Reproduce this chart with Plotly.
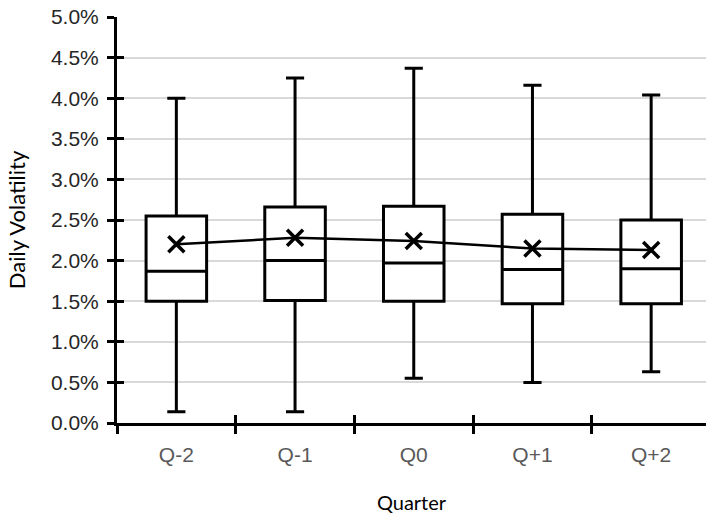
import plotly.graph_objects as go

# Quarterly daily-volatility distribution around the event quarter
quarters = ["Q-2", "Q-1", "Q0", "Q+1", "Q+2"]
whisker_low = [0.0014, 0.0014, 0.0055, 0.0050, 0.0063]
q1 = [0.0150, 0.0151, 0.0150, 0.0147, 0.0147]
median = [0.0187, 0.0200, 0.0197, 0.0189, 0.0190]
q3 = [0.0255, 0.0266, 0.0267, 0.0257, 0.0250]
whisker_high = [0.0400, 0.0425, 0.0437, 0.0416, 0.0404]
mean = [0.0220, 0.0228, 0.0224, 0.0215, 0.0213]

TICK_FONT = "Arial, Liberation Sans"
TITLE_FONT = "Lato"
X_RANGE = [-0.5, 4.462]
Y_RANGE = [0, 0.05]

fig = go.Figure()

fig.add_trace(go.Box(
    x=quarters,
    q1=q1, median=median, q3=q3,
    lowerfence=whisker_low, upperfence=whisker_high,
    fillcolor="white",
    line=dict(color="black", width=3),
    whiskerwidth=0.3,
    boxpoints=False,
    showlegend=False,
    hoverinfo="skip",
))

fig.add_trace(go.Scatter(
    x=quarters, y=mean,
    mode="lines+markers",
    line=dict(color="black", width=2.5),
    marker=dict(symbol="x-thin", size=16, line=dict(color="black", width=3.5)),
    showlegend=False,
    hoverinfo="skip",
))

# invisible trace that carries the overlay axes (inner half of the cross ticks)
fig.add_trace(go.Scatter(
    x=quarters, y=mean, xaxis="x2", yaxis="y2",
    mode="markers", marker=dict(opacity=0),
    showlegend=False, hoverinfo="skip",
))

fig.update_layout(
    width=706, height=517,
    margin=dict(l=117, r=0, t=17, b=94),
    paper_bgcolor="white", plot_bgcolor="white",
    boxgap=0.49, boxgroupgap=0,
    xaxis=dict(
        type="category", categoryarray=quarters, range=X_RANGE,
        showline=True, linecolor="black", linewidth=3,
        ticks="outside", tickson="boundaries", ticklen=8, tickwidth=2.5, tickcolor="black",
        showgrid=False, zeroline=False,
        tickfont=dict(family=TICK_FONT, size=21, color="#595959"),
        ticklabelstandoff=11,
        title=dict(text="Quarter", font=dict(family=TITLE_FONT, size=20, color="black"), standoff=31),
    ),
    yaxis=dict(
        range=Y_RANGE, dtick=0.005, tickformat=".1%",
        showline=True, linecolor="black", linewidth=3,
        ticks="outside", ticklen=7, tickwidth=2.5, tickcolor="black",
        showgrid=True, gridcolor="#d9d9d9", gridwidth=1.5, zeroline=False,
        tickfont=dict(family=TICK_FONT, size=21, color="#262626"),
        ticklabelstandoff=4,
        title=dict(text="Daily Volatility", font=dict(family=TITLE_FONT, size=22, color="black"), standoff=20),
    ),
    xaxis2=dict(
        type="category", categoryarray=quarters, range=X_RANGE,
        overlaying="x", anchor="y2", side="bottom",
        ticks="inside", tickson="boundaries", ticklen=8, tickwidth=2.5, tickcolor="black",
        showticklabels=False, showgrid=False, showline=False, zeroline=False,
    ),
    yaxis2=dict(
        range=Y_RANGE, dtick=0.005,
        overlaying="y", anchor="x2", side="left",
        ticks="inside", ticklen=7, tickwidth=2.5, tickcolor="black",
        showticklabels=False, showgrid=False, showline=False, zeroline=False,
    ),
)

fig.write_html("out.html")
